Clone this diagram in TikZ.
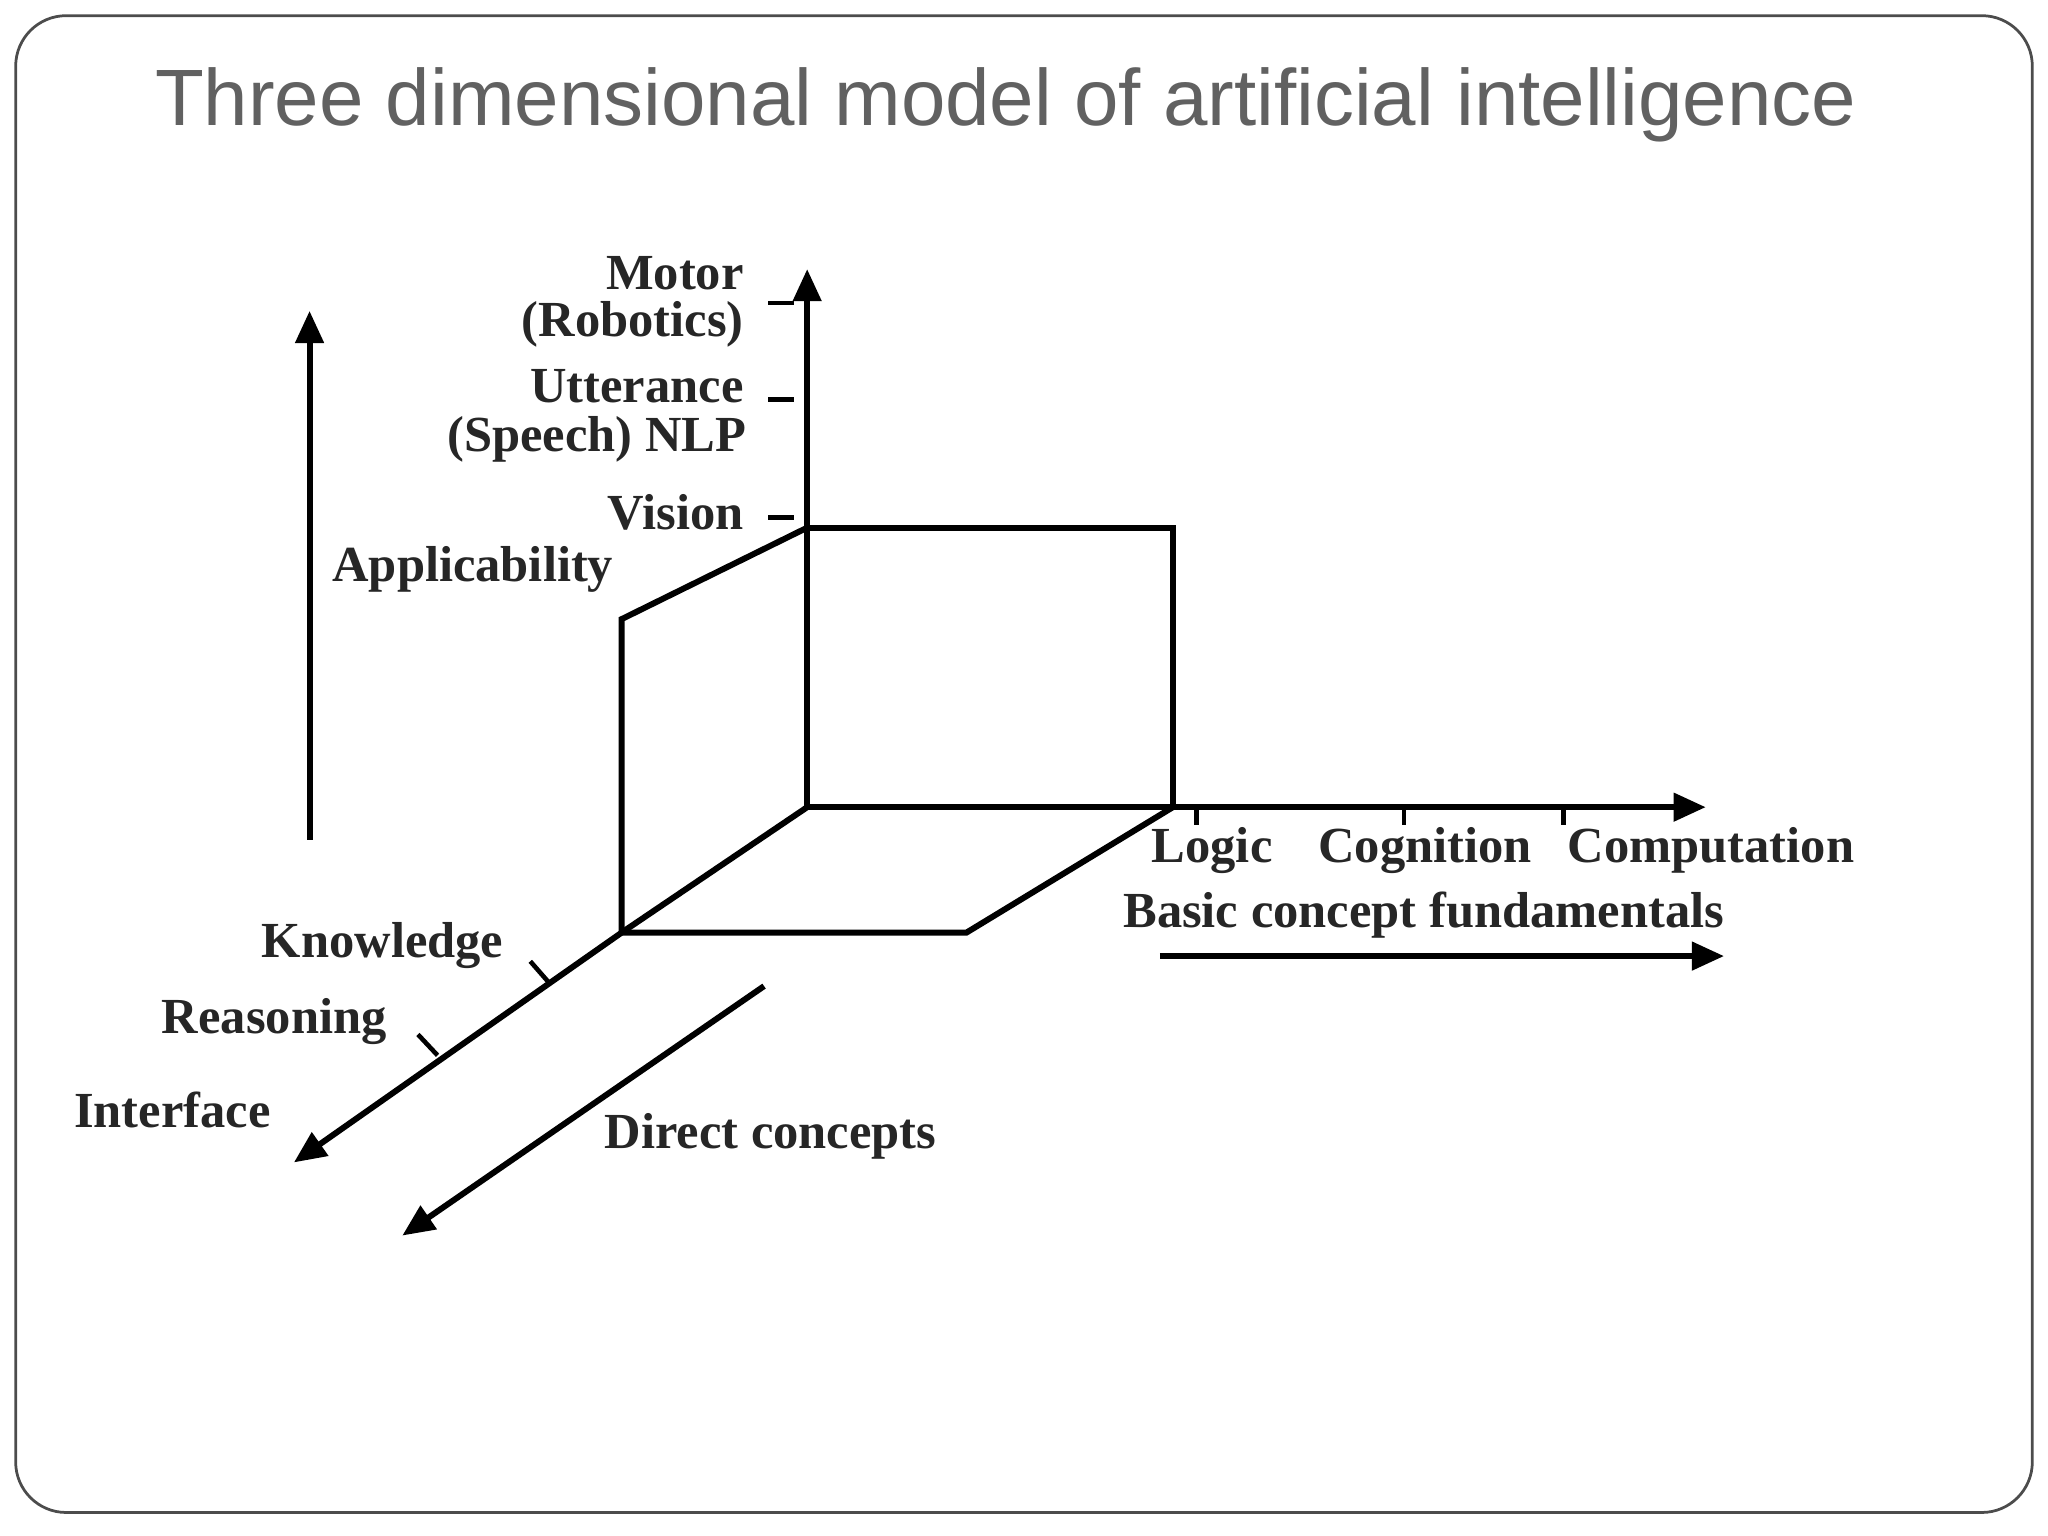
\documentclass[tikz,border=0pt]{standalone}
\usepackage{fontspec}
\setmainfont{Liberation Serif}
\setsansfont{Liberation Sans}
\usetikzlibrary{arrows.meta}
\tikzset{
  ax/.style={line width=1.3pt,-{Triangle[length=7pt,width=6pt]}},
  ln/.style={line width=1.3pt},
  tk/.style={line width=1pt},
  lab/.style={font=\fontsize{11}{13}\selectfont\bfseries, text=black!85, inner sep=0pt},
}
\begin{document}
\begin{tikzpicture}[x=0.01cm,y=-0.01cm]
\useasboundingbox (0,0) rectangle (1568,1176);
\draw[black!70, line width=0.6pt, rounded corners=11pt] (12,12) rectangle (1556,1158);
\node[font=\sffamily\fontsize{17.4}{19}\selectfont, text=black!62] (title) at (770,80) {Three dimensional model of artificial intelligence};
% axes
\coordinate (O) at (618,618);
\coordinate (vtop) at (618,206);
\coordinate (hend) at (1306,618);
\coordinate (dend) at (225,890);
\draw[ax] (O) -- (vtop);
\draw[ax] (O) -- (hend);
\coordinate (F) at (476,714);
\draw[ax] (O) -- (F) -- (dend);
% cube
\coordinate (A) at (618,404);
\coordinate (B) at (898,404);
\coordinate (C) at (898,618);
\coordinate (D) at (476,474);
\coordinate (E) at (740,714);
\draw[ln] (A) -- (B) -- (C);
\draw[ln] (A) -- (D) -- (F) -- (E) -- (C);
% ticks
\foreach \y in {232,306,396} \draw[tk] (588,\y) -- (608,\y);
\foreach \x in {916,1075,1197} \draw[tk] (\x,618) -- (\x,632);
\draw[tk] (420,752) -- (406,736);
\draw[tk] (335,808) -- (320,792);
% side arrows
\coordinate (ap1) at (237,643); \coordinate (ap2) at (237,238);
\draw[ax] (ap1) -- (ap2);
\coordinate (bc1) at (888,732); \coordinate (bc2) at (1320,732);
\draw[ax] (bc1) -- (bc2);
\coordinate (dc1) at (585,755); \coordinate (dc2) at (308,946);
\draw[ax] (dc1) -- (dc2);
% labels
\node[lab, anchor=east] (motor) at (570,209) {Motor};
\node[lab, anchor=east] (rob) at (570,248) {(Robotics)};
\node[lab, anchor=east] (utt) at (570,296) {Utterance};
\node[lab, anchor=east] (nlp) at (572,336) {(Speech) NLP};
\node[lab, anchor=east] (vis) at (570,392) {Vision};
\node[lab] (appl) at (362,436) {Applicability};
\node[lab] (logic) at (928,651) {Logic};
\node[lab] (cog) at (1091,651) {Cognition};
\node[lab] (comp) at (1310,651) {Computation};
\node[lab] (bcf) at (1090,701) {Basic concept fundamentals};
\node[lab] (know) at (293,724) {Knowledge};
\node[lab] (reas) at (210,782) {Reasoning};
\node[lab] (intf) at (132,850) {Interface};
\node[lab] (dcon) at (590,870) {Direct concepts};
\end{tikzpicture}
\end{document}
